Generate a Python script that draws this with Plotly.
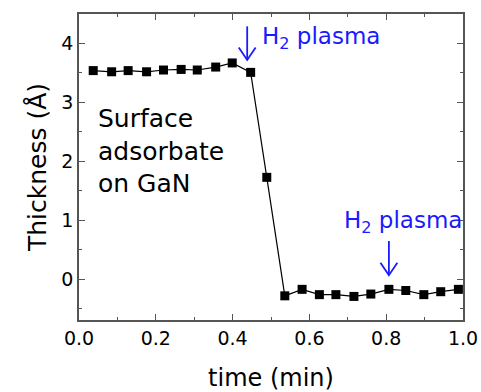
import plotly.graph_objects as go

time_min = [0.037, 0.085, 0.128, 0.176, 0.220, 0.266, 0.308, 0.356, 0.399, 0.447,
            0.489, 0.536, 0.581, 0.626, 0.669, 0.716, 0.760, 0.807, 0.851, 0.898, 0.942, 0.988]
thickness = [3.54, 3.52, 3.54, 3.52, 3.55, 3.56, 3.55, 3.60, 3.67, 3.51,
             1.73, -0.28, -0.17, -0.26, -0.26, -0.29, -0.25, -0.17, -0.19, -0.26, -0.21, -0.17]

# H2 plasma arrows: (x, tail y, tip y)
arrow_x = [0.438, 0.807]
arrow_top = [4.29, 0.65]
arrow_tip = [3.72, 0.07]

FONT = "DejaVu Sans"
BLUE = "#1a1aff"

fig = go.Figure()
fig.add_trace(go.Scatter(
    x=time_min, y=thickness, mode="lines+markers",
    line=dict(color="black", width=1.2),
    marker=dict(symbol="square", size=9, color="black"),
    showlegend=False,
))

axis_common = dict(
    showline=True, linecolor="#555555", linewidth=1.5, mirror="allticks",
    ticks="inside", ticklen=6, tickwidth=1.2, tickcolor="#555555",
    showgrid=False, zeroline=False,
    tickfont=dict(family=FONT, size=19, color="black"),
)

fig.update_xaxes(
    range=[0, 1.0], dtick=0.2, tickformat=".1f", automargin=False,
    minor=dict(ticks="inside", dtick=0.1, ticklen=3, tickcolor="#555555", tickwidth=1.2),
    title=dict(text="time (min)", font=dict(family=FONT, size=24, color="black"), standoff=22),
    **axis_common,
)
fig.update_yaxes(
    range=[-0.69, 4.5], dtick=1,
    minor=dict(ticks="inside", dtick=0.5, ticklen=3, tickcolor="#555555", tickwidth=1.2),
    title=dict(text="Thickness (Å)", font=dict(family=FONT, size=25, color="black"), standoff=8),
    **axis_common,
)

# arrows: shaft + open V head
head_dx = 0.022
head_dy = 0.21
for xa, yt, yp in zip(arrow_x, arrow_top, arrow_tip):
    fig.add_shape(type="line", xref="x", yref="y", x0=xa, x1=xa, y0=yt, y1=yp,
                  line=dict(color=BLUE, width=1.8))
    fig.add_shape(type="path", xref="x", yref="y",
                  path=f"M {xa - head_dx},{yp + head_dy} L {xa},{yp} L {xa + head_dx},{yp + head_dy}",
                  line=dict(color=BLUE, width=1.8))

fig.add_annotation(x=0.472, y=4.1, xref="x", yref="y", text="H<sub>2</sub> plasma", showarrow=False,
                   xanchor="left", yanchor="middle", font=dict(family=FONT, size=23, color=BLUE))
fig.add_annotation(x=0.684, y=0.98, xref="x", yref="y", text="H<sub>2</sub> plasma", showarrow=False,
                   xanchor="left", yanchor="middle", font=dict(family=FONT, size=23, color=BLUE))
fig.add_annotation(x=0.045, y=2.17, xref="x", yref="y", text="Surface<br>adsorbate<br>on GaN",
                   showarrow=False, xanchor="left", yanchor="middle", align="left",
                   font=dict(family=FONT, size=25, color="black"))

fig.update_layout(
    width=481, height=392,
    margin=dict(l=79, r=18, t=14, b=72),
    paper_bgcolor="white", plot_bgcolor="white",
)

fig.write_html("out.html")
